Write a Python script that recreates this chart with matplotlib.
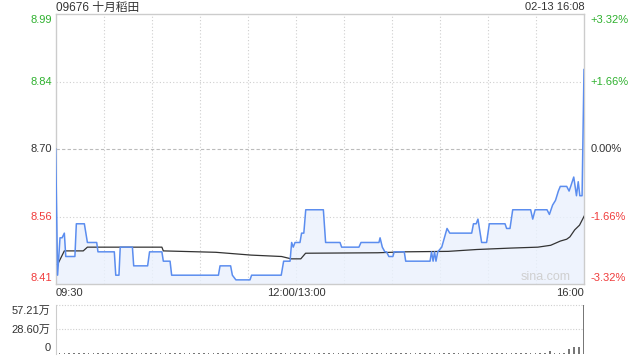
import matplotlib
matplotlib.use("Agg")
import matplotlib.pyplot as plt

plt.rcParams['font.family'] = ['Liberation Sans', 'Noto Sans CJK SC']

# minutes since 09:30 (lunch break removed, 150 = 12:00/13:00, 330 = 16:00)
price_t = [0, 1.2, 2.7, 4.0, 5.4, 6.3, 12.0, 12.9, 17.9, 19.8, 25.6, 26.4, 36.6, 37.5,
           39.5, 40.3, 47.9, 48.7, 57.4, 58.6, 66.3, 67.2, 71.4, 72.4, 101.6, 102.6,
           109.2, 110.3, 112.5, 121.3, 122.3, 140.8, 142.3, 146.3, 147.3, 148.3, 149.4,
           152.5, 153.5, 154.9, 156.1, 167.1, 168.5, 177.5, 178.5, 189.3, 190.6, 201.8,
           202.5, 203.9, 205.5, 206.5, 208.0, 210.5, 211.3, 217.6, 218.5, 233.7, 234.6,
           235.6, 236.5, 237.4, 238.5, 241.0, 244.3, 246.0, 259.7, 260.8, 262.5, 263.6,
           265.9, 269.0, 270.7, 280.5, 281.5, 283.6, 285.3, 296.5, 297.8, 299.3, 306.7,
           308.2, 310.2, 312.0, 313.8, 315.0, 319.0, 320.5, 321.5, 323.4, 325.1, 326.2,
           327.2, 328.6, 329.8]
price = [8.70, 8.43, 8.51, 8.51, 8.52, 8.47, 8.47, 8.54, 8.54, 8.50, 8.50, 8.48, 8.48, 8.43,
         8.43, 8.49, 8.49, 8.45, 8.45, 8.48, 8.48, 8.46, 8.46, 8.43, 8.43, 8.45,
         8.45, 8.43, 8.42, 8.42, 8.43, 8.43, 8.46, 8.46, 8.50, 8.49, 8.50,
         8.50, 8.52, 8.52, 8.57, 8.57, 8.50, 8.50, 8.49, 8.49, 8.50, 8.50,
         8.51, 8.49, 8.48, 8.48, 8.47, 8.47, 8.48, 8.48, 8.46, 8.46, 8.48,
         8.46, 8.48, 8.46, 8.48, 8.49, 8.53, 8.52, 8.52, 8.54, 8.54, 8.55,
         8.50, 8.50, 8.54, 8.54, 8.53, 8.53, 8.57, 8.57, 8.55, 8.57, 8.57,
         8.56, 8.58, 8.59, 8.61, 8.62, 8.62, 8.61, 8.62, 8.64, 8.60, 8.63,
         8.60, 8.60, 8.87]

avg_t = [1.2, 5.4, 17.2, 19.8, 66.3, 67.2, 100, 122, 141, 147, 153, 156, 201, 218,
         245, 263, 284, 301, 309, 315, 319, 321, 324, 327, 330]
avg_price = [8.453, 8.482, 8.482, 8.490, 8.490, 8.482, 8.479, 8.473, 8.470, 8.465, 8.465,
             8.477, 8.478, 8.480, 8.481, 8.485, 8.488, 8.490, 8.494, 8.503, 8.507, 8.512,
             8.527, 8.537, 8.557]

# volume every 3 minutes
vol_t = list(range(0, 331, 3))
vol = [9000, 7000, 8000, 6000, 7000, 9000, 6000, 8000, 7000, 6000, 8000, 7000, 9000, 6000,
       7000, 8000, 6000, 7000, 9000, 8000, 6000, 7000, 8000, 6000, 7000, 9000, 7000, 6000,
       8000, 7000, 6000, 9000, 7000, 8000, 6000, 7000, 8000, 9000, 6000, 7000, 8000, 7000,
       6000, 9000, 7000, 8000, 6000, 7000, 9000, 12000, 8000, 7000, 6000, 8000, 7000, 9000,
       6000, 7000, 8000, 6000, 9000, 7000, 8000, 6000, 7000, 8000, 9000, 6000, 7000, 8000,
       6000, 7000, 9000, 8000, 6000, 7000, 8000, 9000, 7000, 6000, 8000, 7000, 9000, 6000,
       8000, 7000, 6000, 9000, 8000, 7000, 6000, 8000, 9000, 7000, 6000, 8000, 9000, 7000,
       8000, 12000, 8000, 9000, 10000, 30000, 15000, 8000, 12000, 60000, 80000, 80000,
       572100]

prev_close = 8.70
pct_max = 3.32
y_lo = prev_close * (1 - pct_max / 100)
y_hi = prev_close * (1 + pct_max / 100)
mid_hi = prev_close * (1 + pct_max / 200)
mid_lo = prev_close * (1 - pct_max / 200)
price_labels = ['8.99', '8.84', '8.70', '8.56', '8.41']
pct_labels = ['+3.32%', '+1.66%', '0.00%', '-1.66%', '-3.32%']
vol_labels = ['57.21万', '28.60万', '0']
vol_max = 572100
time_labels = ['09:30', '12:00/13:00', '16:00']

green = '#2fb12f'
red = '#f03c3c'
dark = '#333333'
grid_c = '#cfcfcf'

fig = plt.figure(figsize=(6.4, 3.6), dpi=100)
ax = fig.add_axes([0.087, 0.2111, 0.826, 0.75])
axv = fig.add_axes([0.087, 0.0167, 0.826, 0.1361])

# price panel
ax.set_xlim(0, 330)
ax.set_ylim(y_lo, y_hi)
ax.set_xticks([])
ax.set_yticks([])
for s in ax.spines.values():
    s.set_color('#cccccc')
    s.set_linewidth(1)

for t in range(30, 330, 30):
    ax.axvline(t, color=grid_c, lw=0.8, ls=(0, (1, 2)), zorder=1)
for y in [mid_hi, mid_lo]:
    ax.axhline(y, color=grid_c, lw=0.8, ls=(0, (1, 2)), zorder=1)
ax.axhline(prev_close, color='#bbbbbb', lw=0.8, ls=(0, (3, 2)), zorder=1)

ax.fill_between(price_t, price, y_lo, color='#eaf1fd', alpha=0.8, lw=0, zorder=2)
ax.plot(avg_t, avg_price, color='#333333', lw=0.9, zorder=3)
ax.plot(price_t, price, color='#5b8def', lw=1.1, zorder=4)

ax.text(0.975, 0.005, 'sina.com', transform=ax.transAxes, ha='right', va='bottom',
        fontsize=9, color='#d0d0d0')

levels = [y_hi, mid_hi, prev_close, mid_lo, y_lo]
colors = [green, green, dark, red, red]
offsets = [-6, 0, 0, 0, 6]
for lvl, pl, rl, c, off in zip(levels, price_labels, pct_labels, colors, offsets):
    ax.annotate(pl, xy=(0, lvl), xycoords=('axes fraction', 'data'),
                xytext=(-4, off), textcoords='offset pixels',
                ha='right', va='center', fontsize=8, color=c)
    ax.annotate(rl, xy=(1, lvl), xycoords=('axes fraction', 'data'),
                xytext=(6, off), textcoords='offset pixels',
                ha='left', va='center', fontsize=8, color=c)

for x, lab, ha in zip([0, 150, 330], time_labels, ['left', 'center', 'right']):
    ax.annotate(lab, xy=(x, 0), xycoords=('data', 'axes fraction'),
                xytext=(0, -9), textcoords='offset pixels',
                ha=ha, va='center', fontsize=8, color=dark)

fig.text(0.087, 1 - 7.5 / 360, '09676 十月稻田', ha='left', va='center',
         fontsize=8.5, color=dark)
fig.text(0.913, 1 - 7.5 / 360, '02-13 16:08', ha='right', va='center',
         fontsize=8, color=dark)

# volume panel
axv.set_xlim(0, 330)
axv.set_ylim(0, vol_max)
axv.set_xticks([])
axv.set_yticks([])
for k in ['top', 'right', 'bottom']:
    axv.spines[k].set_visible(False)
axv.spines['left'].set_color('#cccccc')
axv.axhline(vol_max, color=grid_c, lw=0.8, ls=(0, (1, 1.5)), clip_on=False)
axv.axhline(vol_max / 2, color=grid_c, lw=0.8, ls=(0, (1, 1.5)))
axv.bar(vol_t, vol, width=-1.0, align='edge', color='#777777', zorder=3)

for v, lab, off in zip([vol_max, vol_max / 2, 0], vol_labels, [-6, 0, 6]):
    axv.annotate(lab, xy=(0, v), xycoords=('axes fraction', 'data'),
                 xytext=(-5, off), textcoords='offset pixels',
                 ha='right', va='center', fontsize=8, color=dark)

fig.savefig('out.png', dpi=100)
